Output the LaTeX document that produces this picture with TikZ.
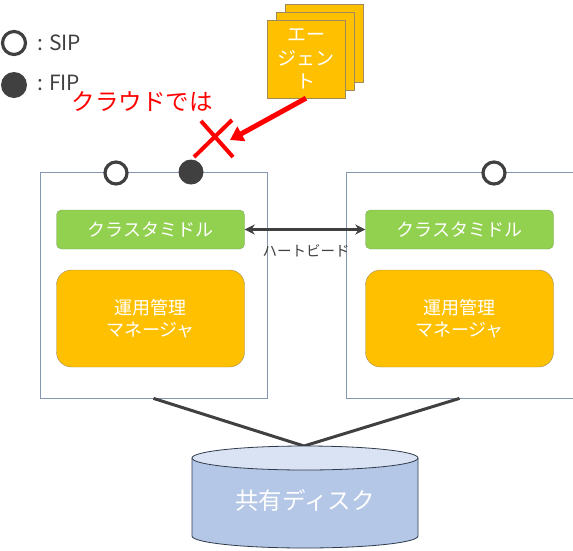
\documentclass[tikz,border=0pt]{standalone}
\usepackage{fontspec}
\setmainfont{Noto Sans CJK JP}
\usetikzlibrary{arrows.meta}
\definecolor{orng}{HTML}{FFC000}
\definecolor{orngb}{HTML}{A08A5A}
\definecolor{grn}{HTML}{92D050}
\definecolor{grnb}{HTML}{79A85A}
\definecolor{srvb}{HTML}{8497B0}
\definecolor{dgray}{HTML}{404040}
\definecolor{redc}{HTML}{FF0000}
\definecolor{dbody}{HTML}{B4C7E7}
\definecolor{dtopc}{HTML}{DAE3F3}
\definecolor{dline}{HTML}{2F3A4A}
\tikzset{
  srv/.style={draw=srvb, line width=0.8pt, minimum width=227pt, minimum height=226pt, inner sep=0pt},
  mid/.style={draw=grnb, fill=grn, rounded corners=5pt, minimum width=188pt, minimum height=39pt, inner sep=0pt, text=white, font=\fontsize{18}{22}\selectfont},
  mgr/.style={draw=orngb, fill=orng, rounded corners=15pt, minimum width=188pt, minimum height=97pt, inner sep=0pt, text=white, align=center, font=\fontsize{18}{22}\selectfont},
  card/.style={draw=orngb, fill=orng, minimum width=78pt, minimum height=78pt, inner sep=0pt, text=white, align=center, font=\fontsize{19}{23.5}\selectfont},
  sipc/.style={circle, draw=dgray, line width=3.2pt, fill=white, minimum size=22pt, inner sep=0pt},
  fipc/.style={circle, fill=dgray, minimum size=25pt, inner sep=0pt},
  legt/.style={anchor=west, inner sep=0pt, text=dgray, font=\fontsize{21}{26}\selectfont},
  conn/.style={draw=dgray, line width=3pt},
}
\begin{document}
\begin{tikzpicture}[x=1pt,y=-1pt]
\useasboundingbox (0,0) rectangle (573,550);
% legend
\node[sipc, minimum size=23pt] (l1) at (14,43) {};
\node[legt] (l1t) at (37,43) {:\hspace{6pt}SIP};
\node[fipc, minimum size=26pt] (l2) at (14,85) {};
\node[legt] (l2t) at (37,83) {:\hspace{6pt}FIP};
% servers
\node[srv] (s1) at (153.5,285) {};
\node[srv] (s2) at (459.5,285) {};
\node[sipc] (c1) at (116,173) {};
\node[fipc] (c2) at (191,172) {};
\node[sipc] (c3) at (494,173) {};
\node[mid] (g1) at (150.5,229.5) {クラスタミドル};
\node[mid] (g2) at (459.5,229.5) {クラスタミドル};
\node[mgr] (m1) at (150.5,318.5) {運用管理\\マネージャ};
\node[mgr] (m2) at (459.5,318.5) {運用管理\\マネージャ};
% heartbeat
\draw[dgray, line width=3pt, {Stealth[length=10pt,width=10pt]}-{Stealth[length=10pt,width=10pt]}] (g1.east) -- (g2.west);
\node[text=dgray, inner sep=0pt, font=\fontsize{14.5}{17}\selectfont] (hb) at (306,251) {ハートビード};
% agent cards
\node[card] (a3) at (324,43) {};
\node[card] (a2) at (315,51) {};
\node[card] (a1) at (306,59) {エー\\ジェン\\ト};
% cloud note
\node[text=redc, inner sep=0pt, font=\fontsize{23.5}{28}\selectfont] (cl) at (142,102) {クラウドでは};
\coordinate (xc) at (213,139);
\draw[redc, line width=4pt] (194,157) -- (232,120);
\draw[redc, line width=4pt] (201,121) -- (233,157);
\coordinate (tip) at (230,140);
\draw[redc, line width=5pt, -{Triangle[length=13pt,width=16pt]}] (a1.south) -- (tip);
% disk
\coordinate (dtop) at (304,446);
\draw[conn] (s1.south) -- (dtop) -- (s2.south);
\fill[dbody] (192,458) -- (192,536) arc[start angle=180, end angle=360, x radius=113pt, y radius=12pt] -- (418,458) -- cycle;
\draw[dline, line width=0.8pt] (192,458) -- (192,536) arc[start angle=180, end angle=360, x radius=113pt, y radius=12pt] -- (418,458);
\draw[dline, line width=0.8pt, fill=dtopc] (305,458) ellipse[x radius=113pt, y radius=12pt];
\node[text=white, inner sep=0pt, font=\fontsize{23.5}{28}\selectfont] (disk) at (305,500) {共有ディスク};
\end{tikzpicture}
\end{document}
